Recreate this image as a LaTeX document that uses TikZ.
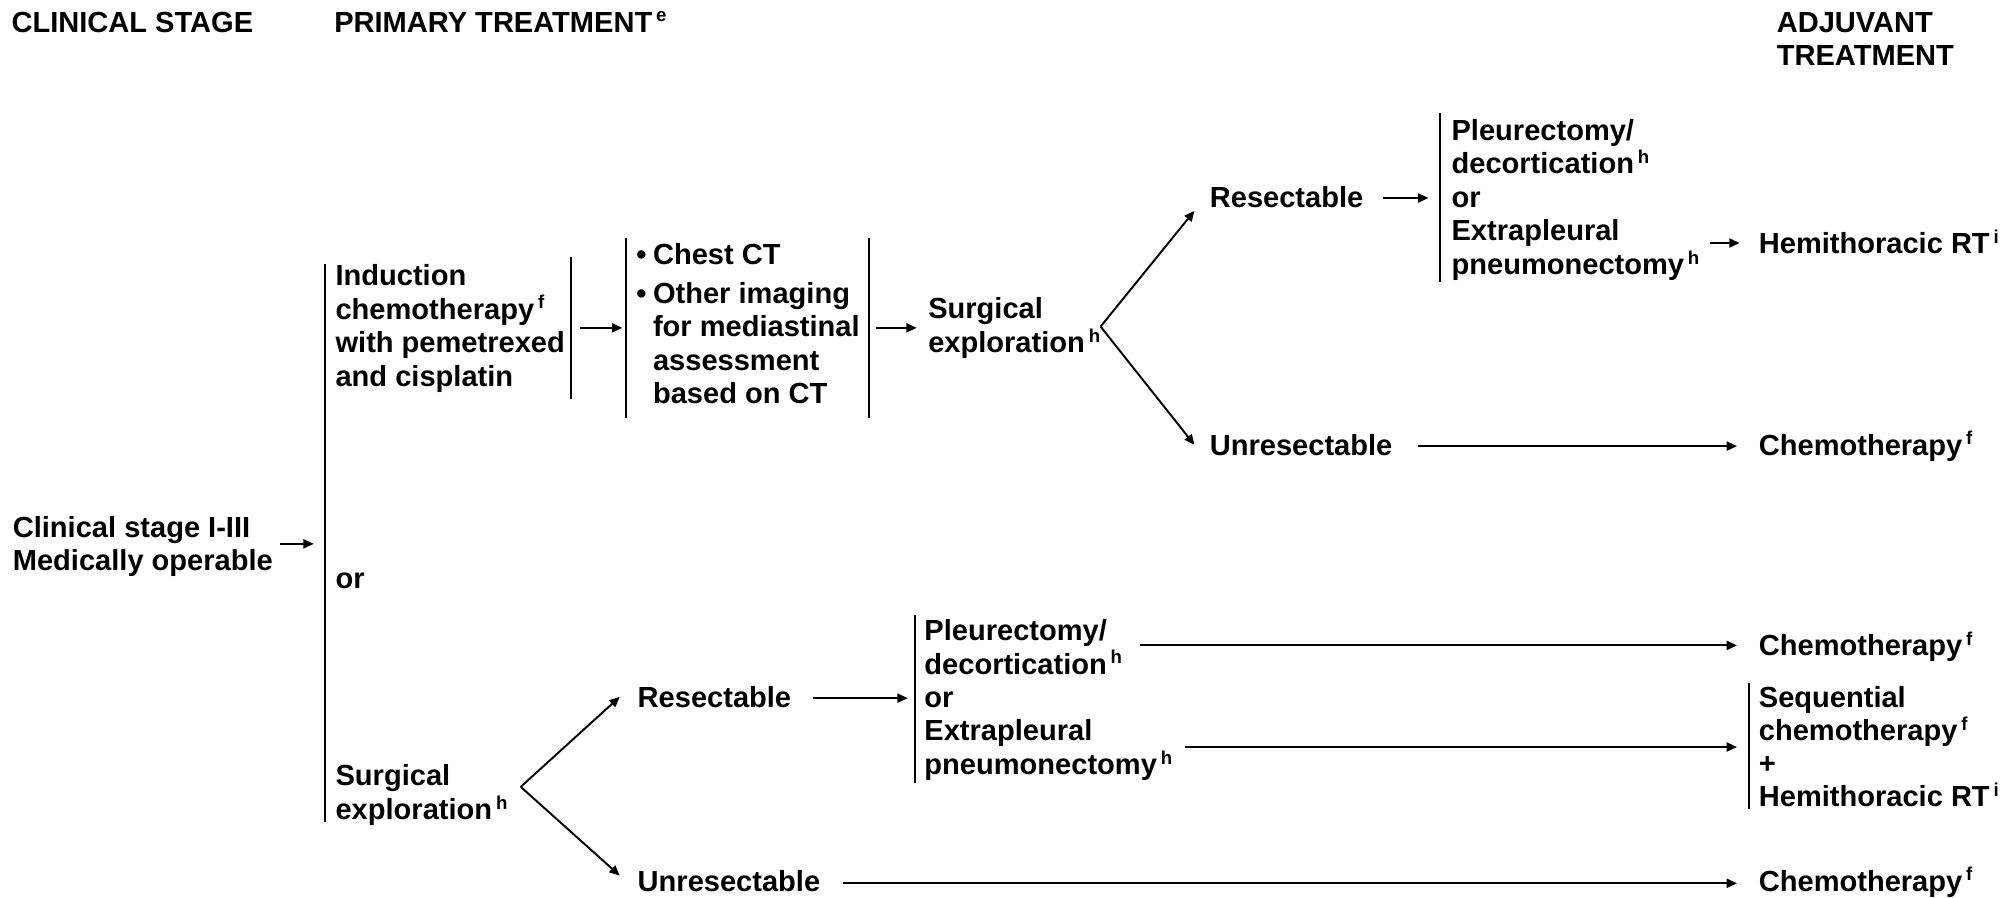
\documentclass[tikz,border=0pt]{standalone}
\usepackage{fontspec}
\setmainfont{Liberation Sans}
\usetikzlibrary{arrows.meta}
\newcommand\bodyfont{\fontsize{22.6}{26}\selectfont\bfseries}
\newcommand\fnote[1]{\hspace{3pt}\raisebox{8pt}{\fontsize{14.5}{14.5}\selectfont\bfseries #1}}
\newcommand\mylines[1]{\begin{tabular}[t]{@{}l@{}}#1\end{tabular}}
\newcommand\mybullet{\textbullet}
\begin{document}
\begin{tikzpicture}[x=1pt,y=-1pt,
  txt/.style={anchor=base west, inner sep=0pt, outer sep=0pt, font=\bodyfont},
  arr/.style={line width=1.5pt, -{Triangle[length=8pt,width=7pt]}},
  bar/.style={line width=1.5pt}]
\useasboundingbox (0,0) rectangle (1568,698);

% headings
\node[txt] (h1) at (9,25) {CLINICAL STAGE};
\node[txt] (h2) at (260,25) {PRIMARY TREATMENT\fnote{e}};
\node[txt] (h3) at (1382,25) {\mylines{ADJUVANT\\TREATMENT}};

% text nodes
\node[txt] (cs) at (10,418) {\mylines{Clinical stage I-III\\Medically operable}};
\node[txt] (ind) at (261,222) {\mylines{Induction\\chemotherapy\fnote{f}\\with pemetrexed\\and cisplatin}};
\node[txt] (orA) at (261,458) {or};
\node[txt] (se2) at (261,611) {\mylines{Surgical\\exploration\fnote{h}}};
\node[txt] (ct) at (495,206) {\begin{tabular}[t]{@{}l@{\hspace{5pt}}l@{}}\mybullet & Chest CT\\[4pt]
  \mybullet & Other imaging\\ & for mediastinal\\ & assessment\\ & based on CT\end{tabular}};
\node[txt] (se1) at (722,248) {\mylines{Surgical\\exploration\fnote{h}}};
\node[txt] (res1) at (941,161) {Resectable};
\node[txt] (unr1) at (941,354) {Unresectable};
\node[txt] (pd1) at (1129,109) {\mylines{Pleurectomy/\\decortication\fnote{h}\\or\\Extrapleural\\pneumonectomy\fnote{h}}};
\node[txt] (hrt) at (1368,197) {Hemithoracic RT\fnote{i}};
\node[txt] (ch1) at (1368,354) {Chemotherapy\fnote{f}};
\node[txt] (res2) at (496,550) {Resectable};
\node[txt] (unr2) at (496,693) {Unresectable};
\node[txt] (pd2) at (719,498) {\mylines{Pleurectomy/\\decortication\fnote{h}\\or\\Extrapleural\\pneumonectomy\fnote{h}}};
\node[txt] (ch2) at (1368,510) {Chemotherapy\fnote{f}};
\node[txt] (seq) at (1368,550) {\renewcommand\arraystretch{0.97}\mylines{Sequential\\chemotherapy\fnote{f}\\+\\Hemithoracic RT\fnote{i}}};
\node[txt] (ch3) at (1368,693) {Chemotherapy\fnote{f}};

% bars
\coordinate (b1t) at (253,205); \coordinate (b1b) at (253,639);
\coordinate (b2t) at (444,200); \coordinate (b2b) at (444,310);
\coordinate (b3t) at (487,185); \coordinate (b3b) at (487,325);
\coordinate (b4t) at (676,185); \coordinate (b4b) at (676,325);
\coordinate (b5t) at (1120,88); \coordinate (b5b) at (1120,219);
\coordinate (b6t) at (712,478); \coordinate (b6b) at (712,609);
\coordinate (b7t) at (1360,531); \coordinate (b7b) at (1360,629);
\foreach \b in {1,...,7} {\draw[bar] (b\b t) -- (b\b b);}

% arrow end points
\coordinate (a1s) at (218,423);  \coordinate (a1e) at (244,423);
\coordinate (a2s) at (451,255);  \coordinate (a2e) at (484,255);
\coordinate (a3s) at (681,255);  \coordinate (a3e) at (713,255);
\coordinate (v1) at (856,254);
\coordinate (a4e) at (929,164);  \coordinate (a5e) at (929,346);
\coordinate (a6s) at (1076,154); \coordinate (a6e) at (1111,154);
\coordinate (a7s) at (1330,189); \coordinate (a7e) at (1353,189);
\coordinate (a8s) at (1103,347); \coordinate (a8e) at (1351,347);
\coordinate (v2) at (405,612);
\coordinate (a9e) at (482,542);  \coordinate (a10e) at (482,681);
\coordinate (a11s) at (632,543); \coordinate (a11e) at (706,543);
\coordinate (a12s) at (887,502); \coordinate (a12e) at (1351,502);
\coordinate (a13s) at (922,581); \coordinate (a13e) at (1351,581);
\coordinate (a14s) at (656,687); \coordinate (a14e) at (1351,687);

\draw[arr] (a1s) -- (a1e);
\draw[arr] (a2s) -- (a2e);
\draw[arr] (a3s) -- (a3e);
\draw[arr] (v1) -- (a4e);
\draw[arr] (v1) -- (a5e);
\draw[arr] (a6s) -- (a6e);
\draw[arr] (a7s) -- (a7e);
\draw[arr] (a8s) -- (a8e);
\draw[arr] (v2) -- (a9e);
\draw[arr] (v2) -- (a10e);
\draw[arr] (a11s) -- (a11e);
\draw[arr] (a12s) -- (a12e);
\draw[arr] (a13s) -- (a13e);
\draw[arr] (a14s) -- (a14e);
\end{tikzpicture}
\end{document}
